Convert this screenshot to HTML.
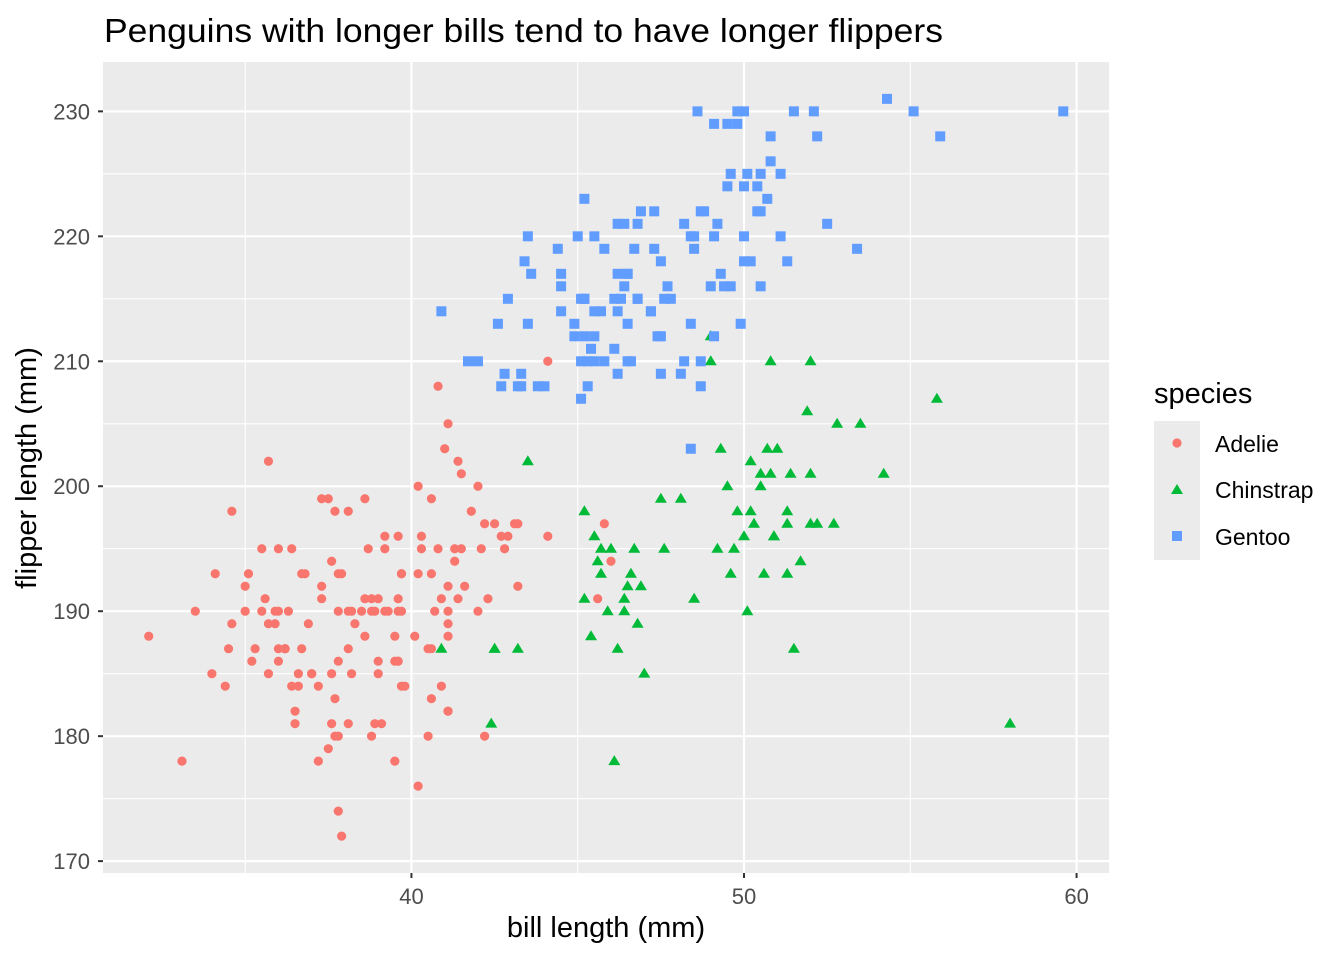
<!DOCTYPE html>
<html><head><meta charset="utf-8"><style>
body{margin:0;background:#fff;}
svg text{font-family:"Liberation Sans",sans-serif;}
</style></head><body>
<svg id="chart" width="1344" height="960" xmlns="http://www.w3.org/2000/svg">
<text x="104" y="42" font-size="33" fill="#000" textLength="839" lengthAdjust="spacingAndGlyphs">Penguins with longer bills tend to have longer flippers</text>
<rect x="103" y="62" width="1006" height="811" fill="#EBEBEB"/>
<g id="grid"></g>
<g id="points"></g>
<g id="axes"></g>
<text x="606" y="937" font-size="29" text-anchor="middle">bill length (mm)</text>
<text transform="translate(36,468) rotate(-90)" font-size="29" text-anchor="middle">flipper length (mm)</text>
<g>
<text x="1154" y="403" font-size="29">species</text>
<rect x="1154" y="421" width="46" height="139" fill="#EBEBEB"/>
<circle cx="1177" cy="443" r="4.6" fill="#F8766D"/>
<polygon points="1177,484 1183,494 1171,494" fill="#00BA38"/>
<rect x="1172" y="531" width="10" height="10" fill="#619CFF"/>
<text x="1215" y="452" font-size="23">Adelie</text>
<text x="1215" y="498" font-size="23">Chinstrap</text>
<text x="1215" y="545" font-size="23">Gentoo</text>
</g>
</svg>
<script>
const xMajorTicks=[40,50,60];
const xMinorTicks=[35,45,55];
const yMajorTicks=[170,180,190,200,210,220,230];
const yMinorTicks=[175,185,195,205,215,225];
const adelieBill=[39.1,39.5,40.3,36.7,39.3,38.9,39.2,34.1,42,37.8,37.8,41.1,38.6,34.6,36.6,38.7,42.5,34.4,46,37.8,37.7,35.9,38.2,38.8,35.3,40.6,40.5,37.9,40.5,39.5,37.2,39.5,40.9,36.4,39.2,38.8,42.2,37.6,39.8,36.5,40.8,36,44.1,37,39.6,41.1,37.5,36,42.3,39.6,40.1,35,42,34.5,41.4,39,40.6,36.5,37.6,35.7,41.3,37.6,41.1,36.4,41.6,35.5,41.1,35.9,41.8,33.5,39.7,39.6,45.8,35.5,42.8,40.9,37.2,36.2,42.1,34.6,42.9,36.7,35.1,37.3,41.3,36.3,36.9,38.3,38.9,35.7,41.1,34,39.6,36.2,40.8,38.1,40.3,33.1,43.2,35,41,37.7,37.8,37.9,39.7,38.6,38.2,38.1,43.2,38.1,45.6,39.7,42.2,39.6,42.7,38.6,37.3,35.7,41.1,36.2,37.7,40.2,41.4,35.2,40.6,38.8,41.5,39,44.1,38.5,43.1,36.8,37.5,38.1,41.1,35.6,40.2,37,39.7,40.2,40.6,32.1,40.7,37.3,39,39.2,36.6,36,37.8,36,41.5];
const adelieFlipper=[181,186,195,193,190,181,195,193,190,186,180,182,191,198,185,195,197,184,194,174,180,189,185,180,187,183,187,172,180,178,178,188,184,195,196,190,180,181,184,182,195,186,196,185,190,182,179,190,191,186,188,190,200,187,191,186,193,181,194,185,195,185,192,184,192,195,188,190,198,190,190,196,197,190,195,191,184,187,195,189,196,187,193,191,194,190,189,189,190,202,205,185,186,187,208,190,196,178,192,192,203,183,190,193,184,199,190,181,197,198,191,193,197,191,196,188,199,189,189,187,198,176,202,186,199,191,195,191,210,190,197,193,199,187,190,191,200,185,193,193,187,188,190,192,185,190,184,195,193,187,201];
const chinstrapBill=[46.5,50,51.3,45.4,52.7,45.2,46.1,51.3,46,51.3,46.6,51.7,47,52,45.9,50.5,50.3,58,46.4,49.2,42.4,48.5,43.2,50.6,46.7,52,50.5,49.5,46.4,52.8,40.9,54.2,42.5,51,49.7,47.5,47.6,52,46.9,53.5,49,46.2,50.9,45.5,50.9,50.8,50.1,49,51.5,49.8,48.1,51.4,45.7,50.7,42.5,52.2,45.2,49.3,50.2,45.6,51.9,46.8,45.7,55.8,43.5,49.6,50.8,50.2];
const chinstrapFlipper=[192,196,193,188,197,198,178,197,195,198,193,194,185,201,190,201,197,181,190,195,181,191,187,193,195,197,200,200,191,205,187,201,187,203,195,199,195,210,192,205,210,187,196,196,196,201,190,212,187,198,199,201,193,203,187,197,191,203,202,194,206,189,195,207,202,193,210,198];
const gentooBill=[46.1,50,48.7,50,47.6,46.5,45.4,46.7,43.3,46.8,40.9,49,45.5,48.4,45.8,49.3,42,49.2,46.2,48.7,50.2,45.1,46.5,46.3,42.9,46.1,44.5,47.8,48.2,50,47.3,42.8,45.1,59.6,49.1,48.4,42.6,44.4,44,48.7,42.7,49.6,45.3,49.6,50.5,43.6,45.5,50.5,44.9,45.2,46.6,48.5,45.1,50.1,46.5,45,43.8,45.5,43.2,50.4,45.3,46.2,45.7,54.3,45.8,49.8,46.2,49.5,43.5,50.7,47.7,46.4,48.2,46.5,46.4,48.6,47.5,51.1,45.2,45.2,49.1,52.5,47.4,50,44.9,50.8,43.4,51.3,47.5,52.1,47.5,52.2,45.5,49.5,44.5,50.8,49.4,46.9,48.4,51.1,48.5,55.9,47.2,49.1,47.3,46.8,41.7,53.4,43.3,48.1,50.5,49.8,43.5,51.5,46.2,55.1,44.5,48.8,47.2,46.8,50.4,45.2,49.9];
const gentooFlipper=[211,230,210,218,215,210,211,219,209,215,214,216,214,213,210,217,210,221,209,222,218,215,213,215,215,215,216,215,210,220,222,209,207,230,220,220,213,219,208,208,208,225,210,216,222,217,210,225,213,215,210,220,210,225,217,220,208,220,208,224,208,221,214,231,219,230,214,229,220,223,216,221,221,217,216,230,209,220,215,223,212,221,212,224,212,228,218,218,212,230,218,228,212,224,214,226,216,222,203,225,219,228,214,229,219,221,210,219,208,209,216,229,213,230,217,230,217,222,214,215,222,212,213];

const NS='http://www.w3.org/2000/svg';
const X0=103,X1=1109,Y0=62,Y1=873;
const xMin=30.725,xMax=60.975,yMin=169.05,yMax=233.95;
function xs(v){return X0+(v-xMin)/(xMax-xMin)*(X1-X0);}
function ys(v){return Y1-(v-yMin)/(yMax-yMin)*(Y1-Y0);}
function mk(tag,attrs,parent){const e=document.createElementNS(NS,tag);for(const k in attrs)e.setAttribute(k,attrs[k]);parent.appendChild(e);return e;}
const grid=document.getElementById('grid'),axes=document.getElementById('axes'),pts=document.getElementById('points');
xMinorTicks.forEach(v=>{const l=mk('line',{x1:xs(v),x2:xs(v),y1:Y0,y2:Y1,stroke:'#fff','stroke-width':1.1},grid);

});
yMinorTicks.forEach(v=>{const l=mk('line',{x1:X0,x2:X1,y1:ys(v),y2:ys(v),stroke:'#fff','stroke-width':1.1},grid);

});
xMajorTicks.forEach(v=>{const l=mk('line',{x1:xs(v),x2:xs(v),y1:Y0,y2:Y1,stroke:'#fff','stroke-width':2.2},grid);


const t=mk('line',{x1:xs(v),x2:xs(v),y1:Y1,y2:Y1+5,stroke:'#333','stroke-width':2},axes);


const tx=mk('text',{x:xs(v),y:904,'font-size':22,fill:'#4D4D4D','text-anchor':'middle'},axes);tx.textContent=v;

});
yMajorTicks.forEach(v=>{const l=mk('line',{x1:X0,x2:X1,y1:ys(v),y2:ys(v),stroke:'#fff','stroke-width':2.2},grid);


const t=mk('line',{x1:X0-5,x2:X0,y1:ys(v),y2:ys(v),stroke:'#333','stroke-width':2},axes);


const tx=mk('text',{x:90,y:ys(v)+8,'font-size':22,fill:'#4D4D4D','text-anchor':'end'},axes);tx.textContent=v;

});
adelieBill.forEach((b,i)=>{const c=mk('circle',{cx:xs(b),cy:ys(adelieFlipper[i]),r:4.6,fill:'#F8766D'},pts);

});
chinstrapBill.forEach((b,i)=>{const x=xs(b),y=ys(chinstrapFlipper[i]);
const p=mk('polygon',{points:`${x},${y-6} ${x+6},${y+4} ${x-6},${y+4}`,fill:'#00BA38'},pts);

});
gentooBill.forEach((b,i)=>{const x=xs(b),y=ys(gentooFlipper[i]);
const r=mk('rect',{x:x-5,y:y-5,width:10,height:10,fill:'#619CFF'},pts);

});
</script>
</body></html>
